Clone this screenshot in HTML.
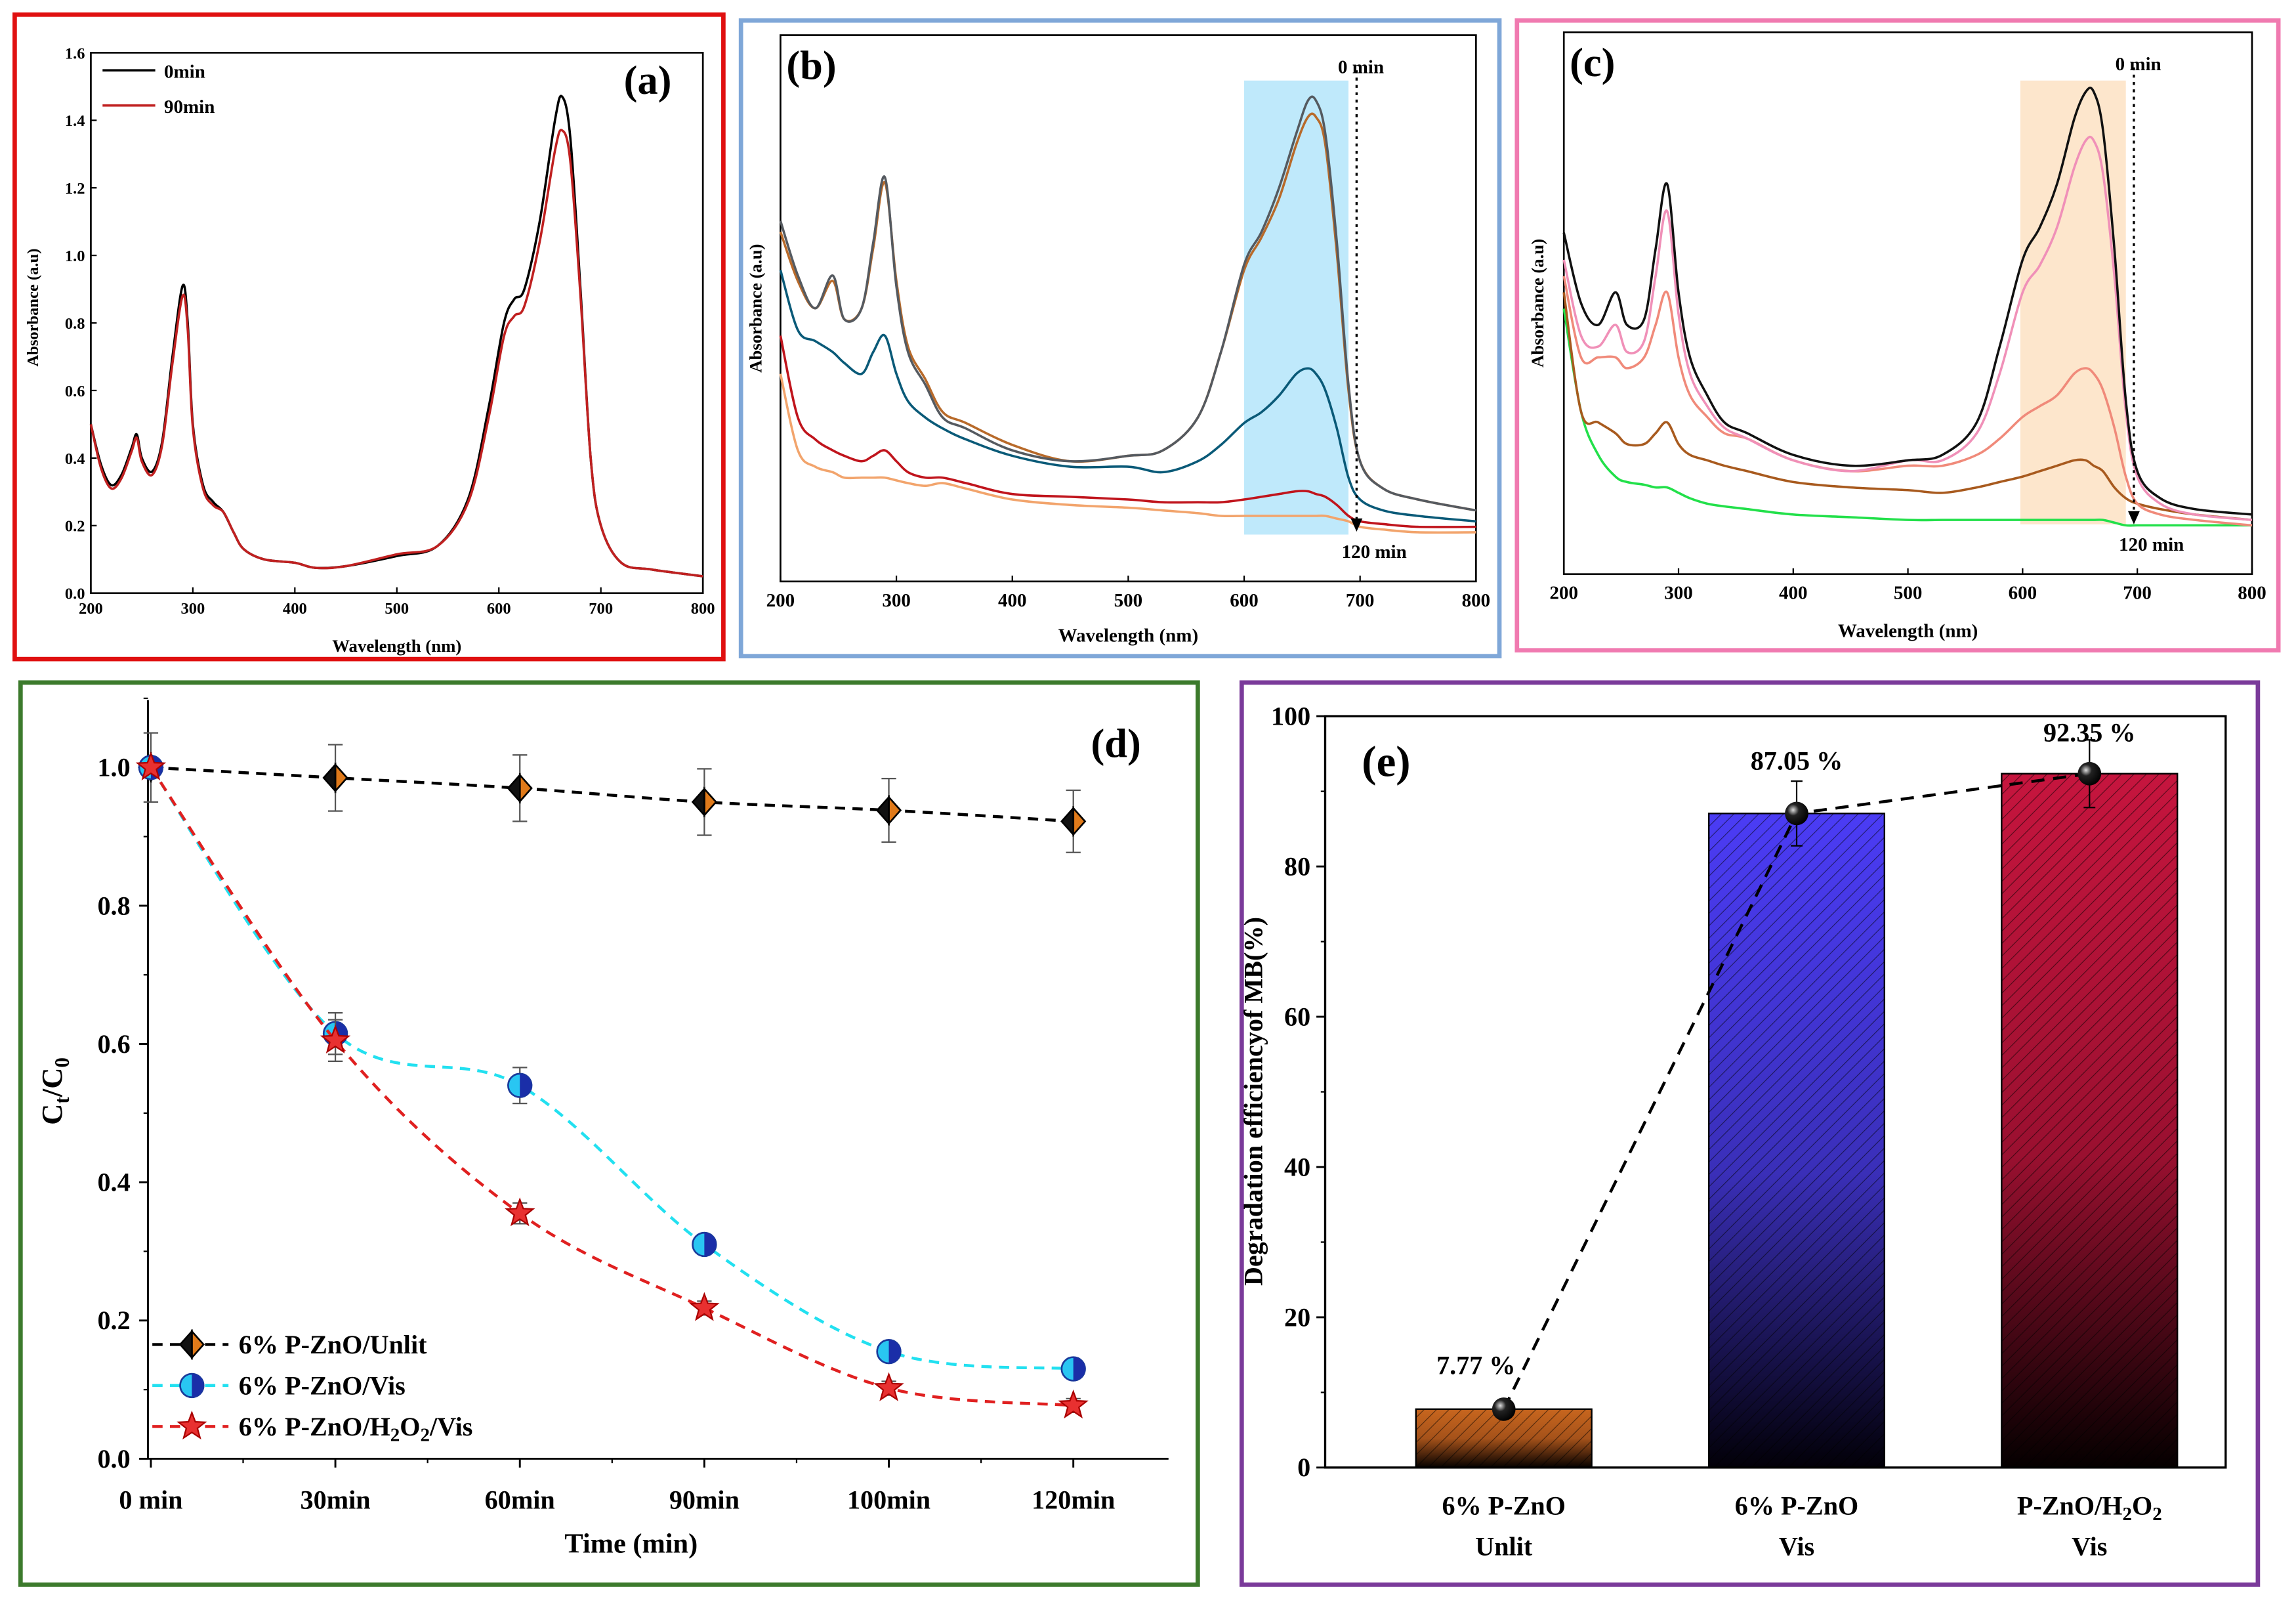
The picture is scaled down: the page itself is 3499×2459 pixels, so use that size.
<!DOCTYPE html>
<html><head><meta charset="utf-8"><style>
html,body{margin:0;padding:0;background:#fff;}
svg{display:block;font-family:"Liberation Serif",serif;font-weight:bold;}
</style></head><body>
<svg id="fig" xmlns="http://www.w3.org/2000/svg" width="3499" height="2459" viewBox="0 0 1568 1102">
<defs>
<pattern id="hatch" patternUnits="userSpaceOnUse" width="6" height="6" patternTransform="rotate(45)">
<line x1="0" y1="0" x2="0" y2="6" stroke="#000" stroke-width="1" stroke-opacity="0.55"/></pattern>
<linearGradient id="gBrown" x1="0" y1="0" x2="0" y2="1"><stop offset="0" stop-color="#c8661e"/><stop offset="0.5" stop-color="#a5521a"/><stop offset="1" stop-color="#050100"/></linearGradient>
<linearGradient id="gBlue" x1="0" y1="0" x2="0" y2="1"><stop offset="0" stop-color="#4b3cf5"/><stop offset="0.55" stop-color="#3a2fb8"/><stop offset="1" stop-color="#020008"/></linearGradient>
<linearGradient id="gRed" x1="0" y1="0" x2="0" y2="1"><stop offset="0" stop-color="#c6153e"/><stop offset="0.55" stop-color="#9a1030"/><stop offset="1" stop-color="#050000"/></linearGradient>
<radialGradient id="ball" cx="0.35" cy="0.35" r="0.7"><stop offset="0" stop-color="#ddd"/><stop offset="0.35" stop-color="#222"/><stop offset="1" stop-color="#000"/></radialGradient>
</defs>
<rect x="10" y="10" width="484" height="440" fill="none" stroke="#e01010" stroke-width="3"/>
<rect x="506" y="14" width="518" height="434" fill="none" stroke="#7fa7d8" stroke-width="3"/>
<rect x="1036" y="14" width="520" height="430" fill="none" stroke="#f07ab0" stroke-width="3"/>
<rect x="14" y="466" width="804" height="616" fill="none" stroke="#3c7a2c" stroke-width="3"/>
<rect x="848" y="466" width="694" height="616" fill="none" stroke="#7a3a9a" stroke-width="3"/>
<g id="pa"></g><g id="pb"></g><g id="pc"></g><g id="pd"></g><g id="pe"></g>
</svg>
<script>
const NS="http://www.w3.org/2000/svg";
function mk(parent,tag,attrs,text){const e=document.createElementNS(NS,tag);for(const k in attrs)e.setAttribute(k,attrs[k]);if(text!==undefined)e.textContent=text;parent.appendChild(e);return e;}

// ---------- Panel a data ----------
const waveA=[200,210,220,230,240,245,250,260,270,280,290,295,300,310,320,330,340,350,370,400,420,450,500,540,570,590,605,615,625,640,655,662,670,680,690,700,720,750,800];
const abs0A=[0.50,0.38,0.32,0.35,0.43,0.47,0.40,0.36,0.45,0.70,0.91,0.80,0.50,0.32,0.27,0.24,0.18,0.13,0.10,0.09,0.075,0.08,0.11,0.14,0.28,0.55,0.80,0.87,0.90,1.10,1.40,1.47,1.35,0.90,0.40,0.20,0.09,0.07,0.05];
const abs90A=[0.50,0.37,0.31,0.34,0.42,0.46,0.39,0.35,0.44,0.68,0.88,0.78,0.49,0.31,0.26,0.24,0.18,0.13,0.10,0.09,0.075,0.08,0.115,0.14,0.27,0.52,0.76,0.82,0.85,1.04,1.31,1.37,1.28,0.88,0.40,0.20,0.09,0.07,0.05];
const xTicksA=[200,300,400,500,600,700,800];
const yTicksA=[0.0,0.2,0.4,0.6,0.8,1.0,1.2,1.4,1.6];

// ---------- Panel b data ----------
const waveB=[200,215,230,245,255,270,280,290,300,310,325,340,360,400,450,500,530,560,580,600,615,630,645,655,662,670,680,690,700,720,750,800];
const b0=[0.66,0.56,0.50,0.56,0.48,0.50,0.62,0.74,0.54,0.42,0.36,0.30,0.28,0.24,0.22,0.23,0.24,0.30,0.42,0.58,0.64,0.72,0.82,0.88,0.88,0.82,0.62,0.36,0.22,0.17,0.15,0.13];
const b1=[0.64,0.55,0.50,0.55,0.48,0.50,0.61,0.73,0.55,0.43,0.37,0.31,0.29,0.25,0.22,0.23,0.24,0.30,0.42,0.57,0.63,0.70,0.80,0.85,0.85,0.80,0.60,0.35,0.22,0.17,0.15,0.13];
const b2=[0.57,0.46,0.44,0.42,0.40,0.38,0.42,0.45,0.38,0.33,0.30,0.28,0.26,0.23,0.21,0.21,0.20,0.22,0.25,0.29,0.31,0.34,0.38,0.39,0.38,0.35,0.28,0.19,0.15,0.13,0.12,0.11];
const b3=[0.45,0.30,0.26,0.24,0.23,0.22,0.23,0.24,0.22,0.20,0.19,0.19,0.18,0.16,0.155,0.15,0.145,0.145,0.145,0.15,0.155,0.16,0.165,0.165,0.16,0.155,0.14,0.12,0.11,0.105,0.10,0.10];
const b4=[0.38,0.24,0.21,0.20,0.19,0.19,0.19,0.19,0.185,0.18,0.175,0.18,0.17,0.15,0.14,0.135,0.13,0.125,0.12,0.12,0.12,0.12,0.12,0.12,0.12,0.12,0.115,0.11,0.10,0.095,0.09,0.09];
const seriesB=[b4,b3,b2,b1,b0];
const colorsB=["#f2a46c","#c0141c","#0a5a78","#b86a2a","#555a60"];

// ---------- Panel c data ----------
const waveC=[200,215,230,245,255,270,280,290,300,310,325,340,360,400,450,500,530,560,580,600,615,630,645,655,662,670,680,690,700,720,750,800];
const c0=[0.63,0.50,0.46,0.52,0.46,0.47,0.60,0.72,0.52,0.40,0.33,0.28,0.26,0.22,0.20,0.21,0.22,0.28,0.42,0.58,0.64,0.72,0.84,0.89,0.89,0.82,0.60,0.32,0.19,0.14,0.12,0.11];
const c1=[0.58,0.44,0.42,0.46,0.41,0.43,0.55,0.67,0.48,0.37,0.31,0.27,0.25,0.21,0.19,0.21,0.21,0.26,0.37,0.52,0.57,0.64,0.75,0.80,0.80,0.74,0.55,0.30,0.18,0.13,0.11,0.10];
const c2=[0.55,0.40,0.40,0.40,0.38,0.40,0.46,0.52,0.40,0.33,0.29,0.26,0.25,0.21,0.19,0.20,0.20,0.22,0.25,0.29,0.31,0.33,0.37,0.38,0.37,0.34,0.27,0.18,0.13,0.11,0.10,0.09];
const c3=[0.52,0.30,0.28,0.26,0.24,0.24,0.26,0.28,0.24,0.22,0.21,0.20,0.19,0.17,0.16,0.155,0.15,0.16,0.17,0.18,0.19,0.20,0.21,0.21,0.20,0.19,0.16,0.14,0.13,0.12,0.11,0.10];
const c4=[0.49,0.30,0.22,0.18,0.17,0.165,0.16,0.16,0.15,0.14,0.13,0.125,0.12,0.11,0.105,0.10,0.10,0.10,0.10,0.10,0.10,0.10,0.10,0.10,0.10,0.10,0.095,0.09,0.09,0.09,0.09,0.09];
const seriesC=[c4,c3,c2,c1,c0];
const colorsC=["#22e04a","#a85a1e","#f08a7a","#f090b8","#111111"];
const xTicksBC=[200,300,400,500,600,700,800];

// ---------- Panel d data ----------
const timeCats=["0 min","30min","60min","90min","100min","120min"];
const unlitVals=[1.0,0.985,0.97,0.95,0.938,0.922];
const unlitErr=[0.05,0.048,0.048,0.048,0.046,0.045];
const visVals=[1.0,0.615,0.54,0.31,0.155,0.13];
const visErr=[0.0,0.03,0.026,0.01,0.01,0.01];
const h2o2Vals=[1.0,0.605,0.355,0.218,0.102,0.077];
const h2o2Err=[0.0,0.03,0.015,0.01,0.01,0.01];
const yTicksD=[0.0,0.2,0.4,0.6,0.8,1.0];

// ---------- Panel e data ----------
const barCats=[["6% P-ZnO","Unlit"],["6% P-ZnO","Vis"],["P-ZnO/H2O2","Vis"]];
const barVals=[7.77,87.05,92.35];
const barErr=[1.0,4.3,4.5];
const barLabels=["7.77 %","87.05 %","92.35 %"];
const yTicksE=[0,20,40,60,80,100];

function pathFrom(xs,ys,fx,fy){return xs.map((x,i)=>(i?"L":"M")+fx(x).toFixed(2)+","+fy(ys[i]).toFixed(2)).join(" ");}
function smoothFrom(xs,ys,fx,fy){
 const P=xs.map((x,i)=>[fx(x),fy(ys[i])]);
 let d="M"+P[0][0].toFixed(2)+","+P[0][1].toFixed(2);
 for(let i=0;i<P.length-1;i++){
  const p0=P[Math.max(0,i-1)],p1=P[i],p2=P[i+1],p3=P[Math.min(P.length-1,i+2)];
  const c1=[p1[0]+(p2[0]-p0[0])/6,p1[1]+(p2[1]-p0[1])/6];
  const c2=[p2[0]-(p3[0]-p1[0])/6,p2[1]-(p3[1]-p1[1])/6];
  d+=` C${c1[0].toFixed(2)},${c1[1].toFixed(2)} ${c2[0].toFixed(2)},${c2[1].toFixed(2)} ${p2[0].toFixed(2)},${p2[1].toFixed(2)}`;
 }
 return d;
}

// ===== Panel A =====
(function(){
 const g=document.getElementById("pa");
 const L=62,R=480,T=36,B=405;
 const fx=w=>L+(w-200)/600*(R-L), fy=v=>B-v/1.6*(B-T);
 mk(g,"rect",{x:L,y:T,width:R-L,height:B-T,fill:"none",stroke:"#000","stroke-width":1.2,});
 xTicksA.forEach(t=>{mk(g,"line",{x1:fx(t),x2:fx(t),y1:B,y2:B-4,stroke:"#000"});
  const e=mk(g,"text",{x:fx(t),y:B+14,"text-anchor":"middle","font-size":11},t);
  });
 yTicksA.forEach(t=>{mk(g,"line",{x1:L,x2:L+4,y1:fy(t),y2:fy(t),stroke:"#000"});
  const e=mk(g,"text",{x:L-4,y:fy(t)+4,"text-anchor":"end","font-size":11},t.toFixed(1));
  });
 mk(g,"text",{x:271,y:445,"text-anchor":"middle","font-size":12,},"Wavelength (nm)");
 mk(g,"text",{x:26,y:210,"text-anchor":"middle","font-size":11,transform:"rotate(-90 26 210)",},"Absorbance (a.u)");
 const p1=mk(g,"path",{d:smoothFrom(waveA,abs0A,fx,fy),fill:"none",stroke:"#000","stroke-width":1.6});
 
 const p2=mk(g,"path",{d:smoothFrom(waveA,abs90A,fx,fy),fill:"none",stroke:"#c02020","stroke-width":1.6});
 
 mk(g,"line",{x1:70,x2:106,y1:48,y2:48,stroke:"#000","stroke-width":1.6});
 mk(g,"text",{x:112,y:53,"font-size":13,},"0min");
 mk(g,"line",{x1:70,x2:106,y1:72,y2:72,stroke:"#c02020","stroke-width":1.6});
 mk(g,"text",{x:112,y:77,"font-size":13,},"90min");
 mk(g,"text",{x:426,y:64,"font-size":28,},"(a)");
})();

function spectrum(gid,L,R,T,B,wave,series,colors,band,bandColor,key,xtitleY,ylabX){
 const g=document.getElementById(gid);
 const fx=w=>L+(w-200)/600*(R-L), fy=v=>B-v*(B-T);
 mk(g,"rect",{x:fx(band[0]),y:band[2],width:fx(band[1])-fx(band[0]),height:band[3]-band[2],fill:bandColor,});
 mk(g,"rect",{x:L,y:T,width:R-L,height:B-T,fill:"none",stroke:"#000","stroke-width":1.2,});
 xTicksBC.forEach(t=>{mk(g,"line",{x1:fx(t),x2:fx(t),y1:B,y2:B-4,stroke:"#000"});
  const e=mk(g,"text",{x:fx(t),y:B+17,"text-anchor":"middle","font-size":13},t);
  });
 series.forEach((s,i)=>{const p=mk(g,"path",{d:smoothFrom(wave,s,fx,fy),fill:"none",stroke:colors[i],"stroke-width":1.6});
  });
 const dx=fx(697);
 mk(g,"line",{x1:dx,x2:dx,y1:T+24,y2:B-40,stroke:"#000","stroke-width":1.5,"stroke-dasharray":"2,3",});
 mk(g,"path",{d:`M${dx-4},${B-43} L${dx+4},${B-43} L${dx},${B-34} Z`,fill:"#000"});
 mk(g,"text",{x:dx+3,y:T+26,"text-anchor":"middle","font-size":13,},"0 min");
 mk(g,"text",{x:dx+12,y:B-16,"text-anchor":"middle","font-size":13,},"120 min");
 mk(g,"text",{x:(L+R)/2,y:xtitleY,"text-anchor":"middle","font-size":13,},"Wavelength (nm)");
 const ym=(T+B)/2;
 mk(g,"text",{x:ylabX,y:ym,"text-anchor":"middle","font-size":12,transform:`rotate(-90 ${ylabX} ${ym})`,},"Absorbance (a.u)");
 mk(g,"text",{x:L+4,y:T+30,"font-size":28,},"("+key+")");
}
spectrum("pb",533,1008,24,397,waveB,seriesB,colorsB,[600,690,55,365],"#bfe9fb","b",438,520);
spectrum("pc",1068,1538,22,392,waveC,seriesC,colorsC,[598,690,55,358],"#fde6cc","c",435,1054);

// ===== Panel D =====
(function(){
 const g=document.getElementById("pd");
 const L=101,R=798,T=478,B=996;
 const fx=i=>103+i*126, fy=v=>B-v/0.2*94.4;
 mk(g,"line",{x1:L,x2:L,y1:T,y2:B,stroke:"#000","stroke-width":1.3});
 mk(g,"line",{x1:L,x2:R,y1:B,y2:B,stroke:"#000","stroke-width":1.3});
 yTicksD.forEach(t=>{mk(g,"line",{x1:L,x2:L-6,y1:fy(t),y2:fy(t),stroke:"#000","stroke-width":1.3});
  mk(g,"line",{x1:L,x2:L-3,y1:fy(t+0.1),y2:fy(t+0.1),stroke:"#000"});
  const e=mk(g,"text",{x:L-12,y:fy(t)+6,"text-anchor":"end","font-size":18},t.toFixed(1));
  });
 timeCats.forEach((c,i)=>{mk(g,"line",{x1:fx(i),x2:fx(i),y1:B,y2:B+6,stroke:"#000","stroke-width":1.3});
  if(i<5) mk(g,"line",{x1:fx(i)+63,x2:fx(i)+63,y1:B,y2:B+3,stroke:"#000"});
  const e=mk(g,"text",{x:fx(i),y:B+34,"text-anchor":"middle","font-size":18},c);
  });
 mk(g,"text",{x:431,y:1060,"text-anchor":"middle","font-size":19,},"Time (min)");
 const yt=mk(g,"text",{x:42,y:745,"text-anchor":"middle","font-size":20,transform:"rotate(-90 42 745)",});
 yt.innerHTML='C<tspan font-size="14" dy="5">t</tspan><tspan dy="-5">/C</tspan><tspan font-size="14" dy="5">0</tspan>';
 mk(g,"text",{x:745,y:517,"font-size":28,},"(d)");
 const series=[[unlitVals,unlitErr,"#000","diamond"],[visVals,visErr,"#22e0f0","circle"],[h2o2Vals,h2o2Err,"#e02020","star"]];
 function marker(kind,x,y){
  if(kind==="diamond"){mk(g,"path",{d:`M${x},${y-9} L${x+8},${y} L${x},${y+9} Z`,fill:"#e07a1a",stroke:"#000","stroke-width":1.2});
   mk(g,"path",{d:`M${x},${y-9} L${x-8},${y} L${x},${y+9} Z`,fill:"#111",stroke:"#000","stroke-width":1.2});}
  else if(kind==="circle"){mk(g,"circle",{cx:x,cy:y,r:8,fill:"#29c6f2",stroke:"#1a3a9a","stroke-width":1.2});
   mk(g,"path",{d:`M${x},${y-8} A8,8 0 0 1 ${x},${y+8} Z`,fill:"#1a2ea8"});}
  else{let d="";for(let k=0;k<10;k++){const r=k%2?4:9.5,a=-Math.PI/2+k*Math.PI/5;d+=(k?"L":"M")+(x+r*Math.cos(a)).toFixed(2)+","+(y+r*Math.sin(a)).toFixed(2);}
   mk(g,"path",{d:d+"Z",fill:"#e83030",stroke:"#a00","stroke-width":1});}
 }
 const names=["unlit","vis","h2o2"];
 series.forEach((s,si)=>{
  const [vals,errs,col,kind]=s;
  const xs=vals.map((v,i)=>i);
  const p=mk(g,"path",{d:smoothFrom(xs,vals,fx,fy),fill:"none",stroke:col,"stroke-width":2,"stroke-dasharray":"7,5"});
  
  vals.forEach((v,i)=>{const x=fx(i);
   if(errs[i]>0){mk(g,"line",{x1:x,x2:x,y1:fy(v+errs[i]),y2:fy(v-errs[i]),stroke:"#555"});
    mk(g,"line",{x1:x-5,x2:x+5,y1:fy(v+errs[i]),y2:fy(v+errs[i]),stroke:"#555"});
    mk(g,"line",{x1:x-5,x2:x+5,y1:fy(v-errs[i]),y2:fy(v-errs[i]),stroke:"#555"});}
   marker(kind,x,fy(v));});
 });
 const leg=[["6% P-ZnO/Unlit","#000","diamond",918],["6% P-ZnO/Vis","#22e0f0","circle",946],["6% P-ZnO/H2O2/Vis","#e02020","star",974]];
 leg.forEach((l,i)=>{mk(g,"line",{x1:104,x2:156,y1:l[3],y2:l[3],stroke:l[1],"stroke-width":2,"stroke-dasharray":"7,5"});
  marker(l[2],131,l[3]);
  const t=mk(g,"text",{x:163,y:l[3]+6,"font-size":18});
  
  if(i===2) t.innerHTML='6% P-ZnO/H<tspan font-size="13" dy="4">2</tspan><tspan dy="-4">O</tspan><tspan font-size="13" dy="4">2</tspan><tspan dy="-4">/Vis</tspan>';
  else t.textContent=l[0];});
})();

// ===== Panel E =====
(function(){
 const g=document.getElementById("pe");
 const L=905,R=1520,T=489,B=1002;
 const fy=v=>B-v/100*(B-T), fx=i=>1027+i*200;
 const fills=["url(#gBrown)","url(#gBlue)","url(#gRed)"];
 barVals.forEach((v,i)=>{const x=fx(i)-60;
  const r=mk(g,"rect",{x:x,y:fy(v),width:120,height:B-fy(v),fill:fills[i],stroke:"#000","stroke-width":1});
  
  mk(g,"rect",{x:x,y:fy(v),width:120,height:B-fy(v),fill:"url(#hatch)",stroke:"#000","stroke-width":1});});
 mk(g,"rect",{x:L,y:T,width:R-L,height:B-T,fill:"none",stroke:"#000","stroke-width":1.5,});
 yTicksE.forEach(t=>{mk(g,"line",{x1:L,x2:L-6,y1:fy(t),y2:fy(t),stroke:"#000","stroke-width":1.3});
  if(t<100) mk(g,"line",{x1:L,x2:L-3,y1:fy(t+10),y2:fy(t+10),stroke:"#000"});
  const e=mk(g,"text",{x:L-10,y:fy(t)+6,"text-anchor":"end","font-size":18},t);
  });
 mk(g,"text",{x:862,y:752,"text-anchor":"middle","font-size":18,transform:"rotate(-90 862 752)",},"Degradation efficiencyof MB(%)");
 mk(g,"path",{d:pathFrom([0,1,2],barVals,fx,fy),fill:"none",stroke:"#000","stroke-width":2,"stroke-dasharray":"9,6",});
 barVals.forEach((v,i)=>{const x=fx(i);
  mk(g,"line",{x1:x,x2:x,y1:fy(v+barErr[i]),y2:fy(v-barErr[i]),stroke:"#000"});
  mk(g,"line",{x1:x-4,x2:x+4,y1:fy(v+barErr[i]),y2:fy(v+barErr[i]),stroke:"#000"});
  mk(g,"line",{x1:x-4,x2:x+4,y1:fy(v-barErr[i]),y2:fy(v-barErr[i]),stroke:"#000"});
  const c=mk(g,"circle",{cx:x,cy:fy(v),r:8,fill:"url(#ball)"});
  
  const lx=[1008,1227,1427][i], ly=[fy(v)-24,fy(v)-30,fy(v)-22][i];
  const t=mk(g,"text",{x:lx,y:ly,"text-anchor":"middle","font-size":18},barLabels[i]);
  
  const a=mk(g,"text",{x:x,y:1034,"text-anchor":"middle","font-size":18});
  
  if(i===2) a.innerHTML='P-ZnO/H<tspan font-size="13" dy="4">2</tspan><tspan dy="-4">O</tspan><tspan font-size="13" dy="4">2</tspan>';
  else a.textContent=barCats[i][0];
  mk(g,"text",{x:x,y:1062,"text-anchor":"middle","font-size":18},barCats[i][1]);});
 mk(g,"text",{x:930,y:530,"font-size":30,},"(e)");
})();
</script>
</body></html>
